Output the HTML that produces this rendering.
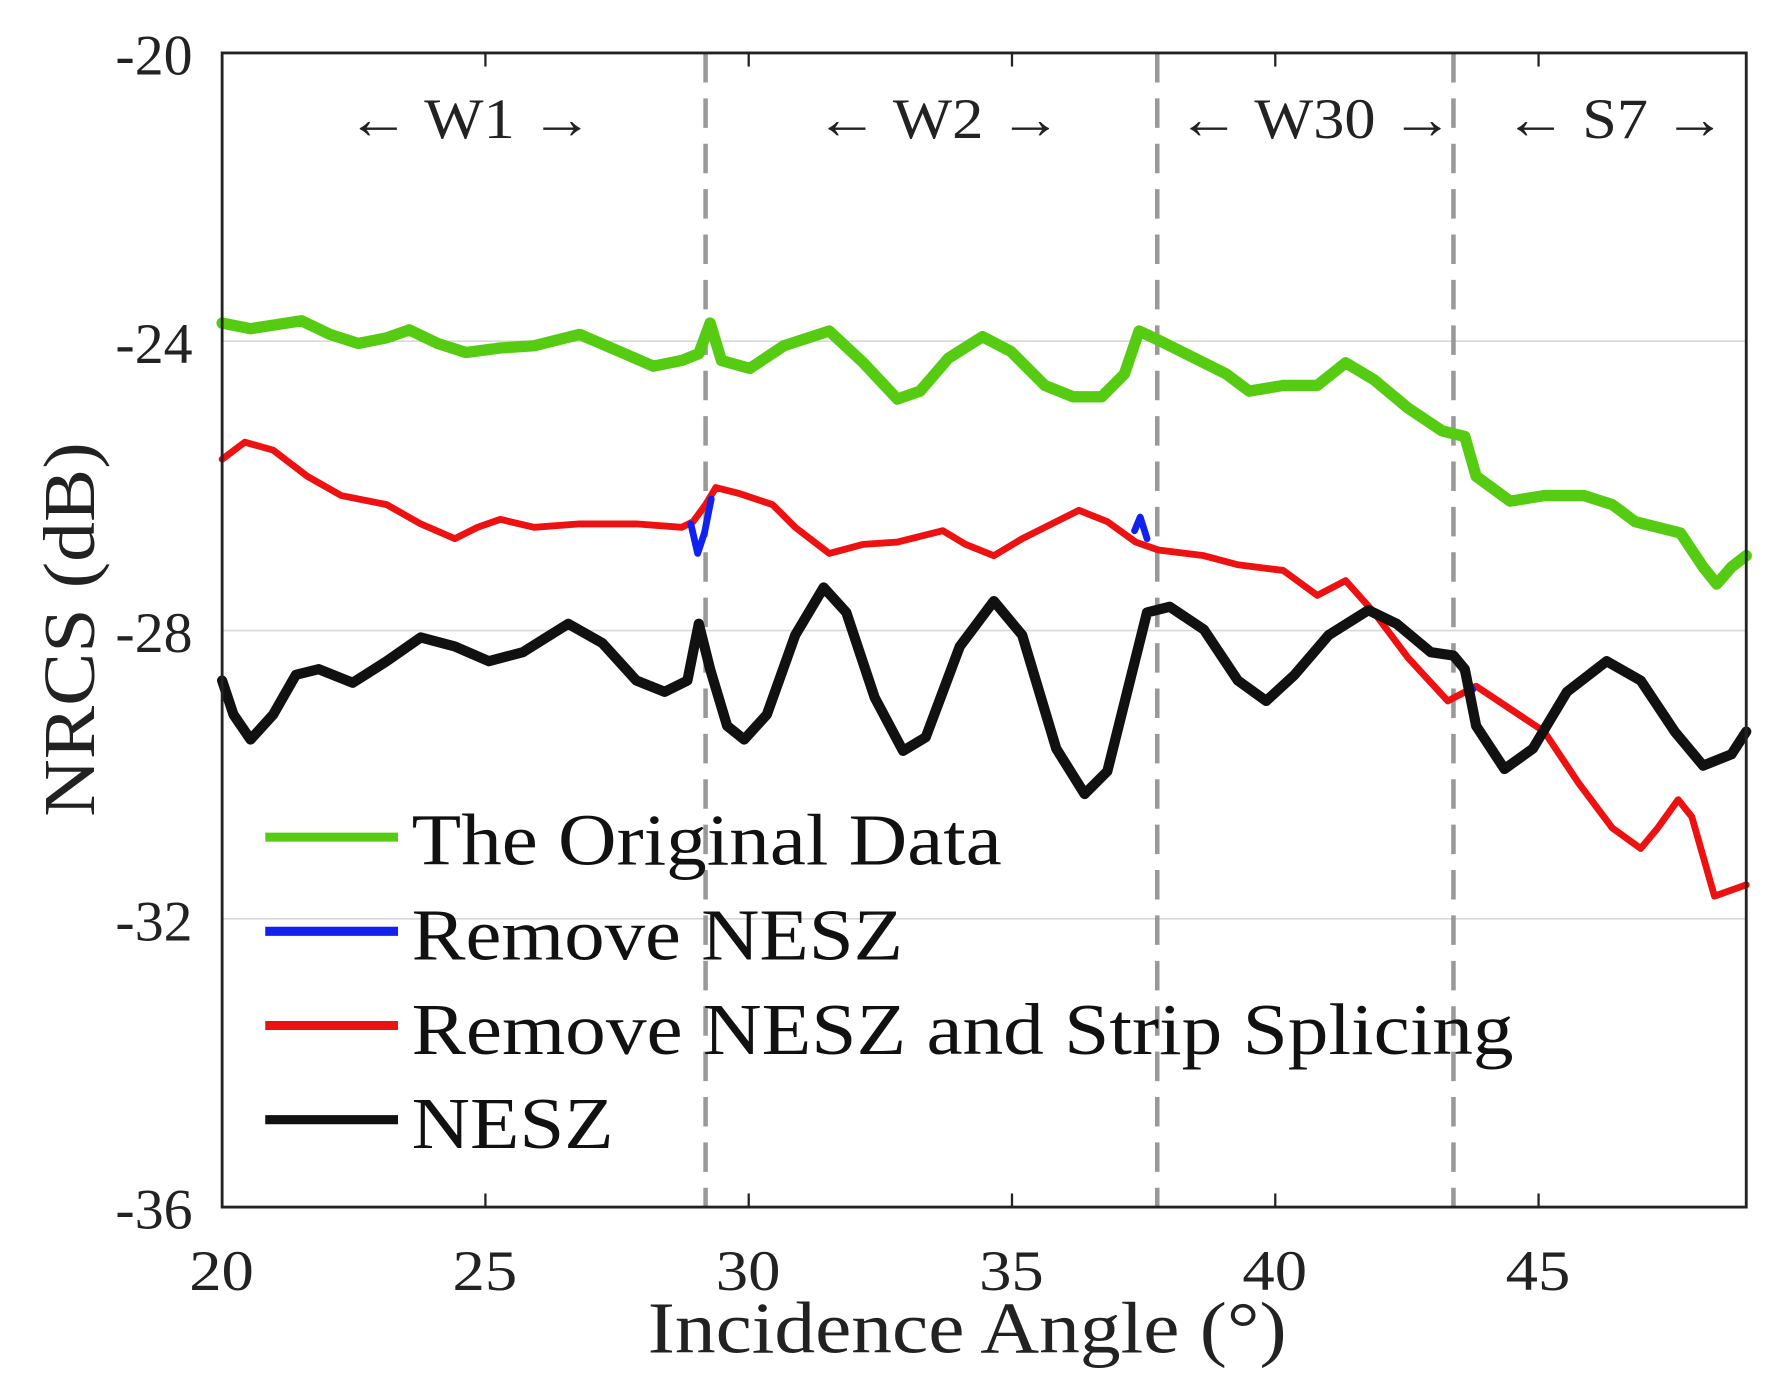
<!DOCTYPE html>
<html><head><style>html,body{margin:0;padding:0;background:#fff}svg{display:block}</style></head>
<body>
<svg width="1777" height="1387" viewBox="0 0 1560 1218" preserveAspectRatio="none" xmlns="http://www.w3.org/2000/svg" font-family="Liberation Serif, serif">
<rect width="1560" height="1218" fill="#fff"/>
<g transform="matrix(0.99628,0,0,0.99656,0.725,-0.338)">
<g stroke="#d8d8d8" stroke-width="1.5">
<line x1="195" y1="301" x2="1538" y2="301"/><line x1="195" y1="556" x2="1538" y2="556"/><line x1="195" y1="810" x2="1538" y2="810"/>
</g>
<g stroke="#999" stroke-width="4" stroke-dasharray="26,14">
<line x1="621" y1="47" x2="621" y2="1064"/><line x1="1019" y1="47" x2="1019" y2="1064"/><line x1="1280" y1="47" x2="1280" y2="1064"/>
</g>
<g fill="none" stroke-linejoin="round" stroke-linecap="round">
<polyline stroke="#55cc11" stroke-width="10" points="195,285 220,290 265,283 290,295 315,303 340,298 360,291 385,303 410,311 440,307 470,305 510,295 545,310 575,323 600,318 615,312 625,285 635,318 660,325 690,305 730,292 760,320 790,352 810,345 835,316 865,297 890,310 920,340 945,350 970,350 990,330 1003,292 1020,300 1050,315 1080,330 1100,345 1130,340 1160,340 1185,320 1210,335 1240,360 1270,380 1290,385 1300,420 1330,442 1360,437 1395,437 1420,445 1440,460 1480,470 1500,500 1512,515 1525,500 1538,490"/>
<polyline stroke="#ee1111" stroke-width="6" points="195,405 215,390 240,397 270,420 300,437 340,445 370,462 400,475 420,465 440,458 470,465 510,462 560,462 600,465 610,460 621,445 630,430 650,435 680,445 700,465 730,488 760,480 790,478 830,468 850,480 875,490 900,475 930,460 950,450 975,460 1000,478 1020,485 1060,490 1090,498 1130,503 1160,525 1185,512 1210,540 1240,580 1275,618 1300,605 1330,625 1360,645 1390,690 1420,730 1445,748 1460,730 1478,705 1490,720 1510,790 1538,780"/>
<g stroke="#1122ee" stroke-width="6"><polyline points="608,462 614,488 620,470 626,440"/><polyline points="999,468 1004,456 1010,475"/><polyline points="1286,585 1292,600 1297,608"/></g>
<polyline stroke="#111" stroke-width="9" points="195,600 205,630 220,652 240,630 260,595 280,590 310,602 340,583 370,562 400,570 430,583 460,575 500,550 530,567 560,600 585,610 605,600 615,550 625,590 640,640 655,652 675,630 700,560 725,518 745,540 770,615 795,662 815,650 845,570 875,530 900,560 930,660 955,700 975,680 995,600 1010,540 1030,535 1060,555 1090,600 1115,618 1140,595 1170,560 1205,538 1230,550 1260,575 1280,578 1290,590 1300,640 1325,678 1350,660 1380,610 1415,583 1445,600 1475,645 1500,675 1525,665 1538,645"/>
</g>
<rect x="195" y="47" width="1343" height="1017" fill="none" stroke="#222" stroke-width="2.5"/>
<g stroke="#222" stroke-width="2">
<line x1="427" y1="1064" x2="427" y2="1052"/><line x1="659" y1="1064" x2="659" y2="1052"/><line x1="891" y1="1064" x2="891" y2="1052"/><line x1="1123" y1="1064" x2="1123" y2="1052"/><line x1="1355" y1="1064" x2="1355" y2="1052"/>
<line x1="427" y1="47" x2="427" y2="59"/><line x1="659" y1="47" x2="659" y2="59"/><line x1="891" y1="47" x2="891" y2="59"/><line x1="1123" y1="47" x2="1123" y2="59"/><line x1="1355" y1="47" x2="1355" y2="59"/>
</g>
<g font-size="50" fill="#222" text-anchor="end">
<text x="169" y="66" textLength="68" lengthAdjust="spacingAndGlyphs">-20</text><text x="169" y="320" textLength="68" lengthAdjust="spacingAndGlyphs">-24</text><text x="169" y="575" textLength="68" lengthAdjust="spacingAndGlyphs">-28</text><text x="169" y="829" textLength="68" lengthAdjust="spacingAndGlyphs">-32</text><text x="169" y="1083" textLength="68" lengthAdjust="spacingAndGlyphs">-36</text>
</g>
<g font-size="50" fill="#222">
<text x="166" y="1137" textLength="57" lengthAdjust="spacingAndGlyphs">20</text><text x="398" y="1137" textLength="57" lengthAdjust="spacingAndGlyphs">25</text><text x="630" y="1137" textLength="57" lengthAdjust="spacingAndGlyphs">30</text><text x="862" y="1137" textLength="57" lengthAdjust="spacingAndGlyphs">35</text><text x="1094" y="1137" textLength="57" lengthAdjust="spacingAndGlyphs">40</text><text x="1326" y="1137" textLength="57" lengthAdjust="spacingAndGlyphs">45</text>
</g>
<text x="570" y="1192" font-size="64" fill="#222" textLength="563" lengthAdjust="spacingAndGlyphs">Incidence Angle (°)</text>
<text transform="translate(82,720) rotate(-90)" font-size="64" fill="#222" textLength="330" lengthAdjust="spacingAndGlyphs">NRCS (dB)</text>
<g font-size="50" fill="#222">
<text x="305" y="122" textLength="217" lengthAdjust="spacingAndGlyphs">← W1 →</text><text x="718" y="122" textLength="217" lengthAdjust="spacingAndGlyphs">← W2 →</text><text x="1037" y="122" textLength="243" lengthAdjust="spacingAndGlyphs">← W30 →</text><text x="1325" y="122" textLength="195" lengthAdjust="spacingAndGlyphs">← S7 →</text>
</g>
<g stroke-width="8">
<line x1="233" y1="738" x2="350" y2="738" stroke="#55cc11"/>
<line x1="233" y1="821" x2="350" y2="821" stroke="#1122ee"/>
<line x1="233" y1="904" x2="350" y2="904" stroke="#ee1111"/>
<line x1="233" y1="987" x2="350" y2="987" stroke="#111"/>
</g>
<g font-size="64" fill="#111">
<text x="362" y="762" textLength="520" lengthAdjust="spacingAndGlyphs">The Original Data</text><text x="362" y="846" textLength="433" lengthAdjust="spacingAndGlyphs">Remove NESZ</text><text x="362" y="929" textLength="971" lengthAdjust="spacingAndGlyphs">Remove NESZ and Strip Splicing</text><text x="362" y="1012" textLength="178" lengthAdjust="spacingAndGlyphs">NESZ</text>
</g>
</g>
</svg>
</body></html>
